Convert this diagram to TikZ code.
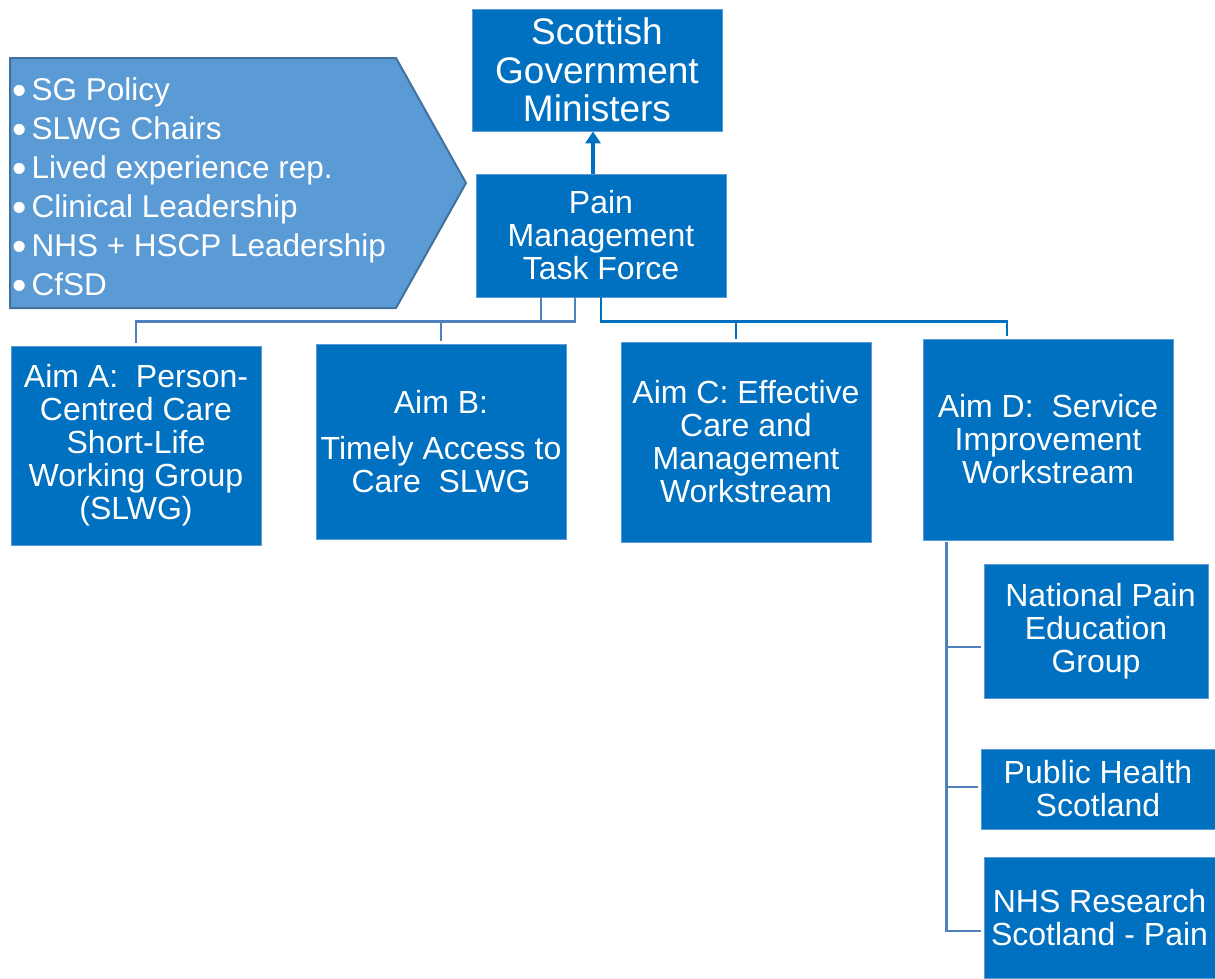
\documentclass[tikz,border=0pt]{standalone}
\usepackage{fontspec}
\setmainfont{Liberation Sans}
\usetikzlibrary{arrows.meta}
\definecolor{boxblue}{HTML}{0070C0}
\definecolor{boxedge}{HTML}{5B9BD5}
\definecolor{pentafill}{HTML}{5B9BD5}
\definecolor{pentaedge}{HTML}{41719C}
\definecolor{linegrey}{HTML}{4F81BD}
\newcommand{\itembul}{\raisebox{-4.5pt}{\scalebox{1.3}{\textbullet}}\kern5pt}
\begin{document}
\begin{tikzpicture}[x=1pt,y=-1pt,
  orgbox/.style={rectangle,fill=boxblue,draw=boxedge,line width=0.8pt,text=white,align=center,inner sep=0pt,font=\fontsize{32}{33}\selectfont},
  connA/.style={draw=linegrey,line width=2.5pt},
  connB/.style={draw=boxblue,line width=2.5pt},
  arr/.style={draw=boxblue,line width=3.5pt,-{Triangle[width=15pt,length=12pt]}}]
\useasboundingbox (0,0) rectangle (1215,978);
% top of the chart
\node[orgbox,minimum width=250pt,minimum height=122pt,font=\fontsize{37}{38.5}\selectfont] (mn) at (597,70) {Scottish\\Government\\Ministers};
\node[orgbox,minimum width=250pt,minimum height=123pt] (tf) at (601,235.5) {Pain\\Management\\Task Force};
\draw[arr] ([xshift=-8pt]tf.north) -- ([xshift=-8pt]tf.north |- mn.south);
% membership arrow
\draw[fill=pentafill,draw=pentaedge,line width=2pt] (10,58) -- (396,58) -- (466,183) -- (396,308) -- (10,308) -- cycle;
\node[anchor=west,align=left,text=white,inner sep=0pt,font=\fontsize{31.5}{39}\selectfont] (members) at (12,188.5)
  {\itembul SG Policy\\\itembul SLWG Chairs\\\itembul Lived experience rep.\\\itembul Clinical Leadership\\\itembul NHS + HSCP Leadership\\\itembul CfSD};
% the four aims
\node[orgbox,minimum width=250pt,minimum height=199pt] (aimA) at (136,445.5) {Aim A:\ \ Person-\\Centred Care\\Short-Life\\Working Group\\(SLWG)};
\node[orgbox,minimum width=250pt,minimum height=195pt] (aimB) at (441,441.5) {Aim B:\\[13pt]Timely Access to\\Care\ \ SLWG};
\node[orgbox,minimum width=250pt,minimum height=200pt] (aimC) at (746,442) {Aim C: Effective\\Care and\\Management\\Workstream};
\node[orgbox,minimum width=250pt,minimum height=201pt] (aimD) at (1048,439.5) {Aim D:\ \ Service\\Improvement\\Workstream};
\draw[connA] ([xshift=-60pt]tf.south) -- ++(0,24) -| ([yshift=3pt]aimA.north);
\draw[connA] ([xshift=-26pt]tf.south) -- ++(0,24) -| ([yshift=3pt]aimB.north);
\draw[connB] (tf.south) -- ++(0,24) -| ([xshift=-10pt,yshift=3pt]aimC.north);
\draw[connB] (tf.south) -- ++(0,24) -| ([xshift=-41pt,yshift=3pt]aimD.north);
% groups under aim D
\node[orgbox,minimum width=224pt,minimum height=134pt] (npeg) at (1096,631) {\ National Pain\\Education\\Group};
\node[orgbox,minimum width=234pt,minimum height=80pt] (phs) at (1098,789) {Public Health\\Scotland};
\node[orgbox,minimum width=231pt,minimum height=121pt] (nrs) at (1099.5,917.5) {NHS Research\\Scotland - Pain};
\draw[connA] ([xshift=24pt,yshift=-2pt]aimD.south west) |- ([xshift=-3pt,yshift=-16pt]npeg.west);
\draw[connA] ([xshift=24pt,yshift=-2pt]aimD.south west) |- ([xshift=-3pt,yshift=2pt]phs.west);
\draw[connA] ([xshift=24pt,yshift=-2pt]aimD.south west) |- ([xshift=-3pt,yshift=-13.5pt]nrs.west);
\end{tikzpicture}
\end{document}
